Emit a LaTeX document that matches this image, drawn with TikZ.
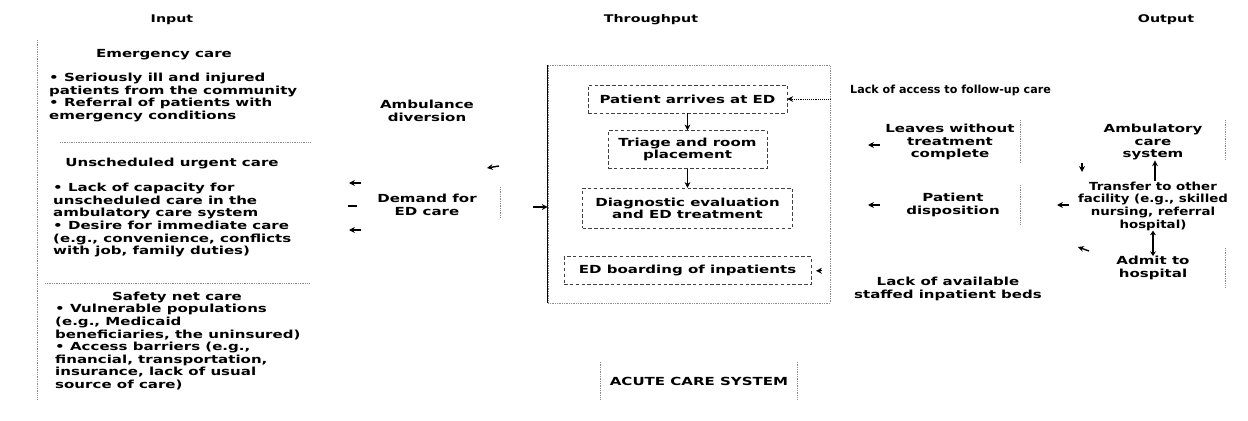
\documentclass[tikz,border=0pt]{standalone}
\usepackage{fontspec}
\newfontfamily\figfont{DejaVu Sans}[FakeStretch=1.35]
\newfontfamily\figmid{DejaVu Sans}[FakeStretch=1.2]
\newfontfamily\figcond{DejaVu Sans}
\usetikzlibrary{arrows.meta, positioning, fit}

\begin{document}
\begin{tikzpicture}[
  x=0.03cm, y=-0.03cm,
  font=\figfont\bfseries\fontsize{9.5}{10.8}\selectfont,
  head/.style={inner sep=0pt, font=\figfont\bfseries\fontsize{9}{10}\selectfont},
  txt/.style={inner sep=0pt, align=center},
  list/.style={inner sep=0pt, align=left, anchor=north west},
  stage/.style={draw=black!75, densely dashed, line width=0.5pt, align=center, inner sep=0pt},
  rule/.style={draw=black!45, densely dotted, line width=0.5pt},
  tip/.style={-{Stealth[length=5pt, width=5pt]}, line width=1.2pt},
  flow/.style={-{Stealth[length=5pt, width=5pt]}, line width=0.6pt}]
  \useasboundingbox (0,0) rectangle (1248,421);

  % column heads
  \node[head] (hin)  at (172,20)  {Input};
  \node[head] (hthr) at (651,20)  {Throughput};
  \node[head] (hout) at (1166,20) {Output};

  % input
  \draw[rule] (37,40) -- (37,400);
  \node[txt] (emerg) at (164,55) {Emergency care};
  \node[list] (emlist) at (49,73) {• Seriously ill and injured\\
    patients from the community\\
    • Referral of patients with\\
    emergency conditions};
  \draw[rule] (60,142) -- (310,142);
  \node[txt] (urgent) at (172,163) {Unscheduled urgent care};
  \node[list] (urlist) at (53,183) {• Lack of capacity for\\
    unscheduled care in the\\
    ambulatory care system\\
    • Desire for immediate care\\
    (e.g., convenience, conflicts\\
    with job, family duties)};
  \draw[rule] (45,283) -- (310,283);
  \node[txt] (safety) at (177,297) {Safety net care};
  \node[list] (salist) at (55,304) {• Vulnerable populations\\
    (e.g., Medicaid\\
    beneficiaries, the uninsured)\\
    • Access barriers (e.g.,\\
    financial, transportation,\\
    insurance, lack of usual\\
    source of care)};

  % demand side
  \node[txt] (ambdiv) at (427,111) {Ambulance\\diversion};
  \node[txt] (demand) at (427,205) {Demand for\\ED care};
  \coordinate (in1a) at (361,183); \coordinate (in1b) at (349,183);
  \coordinate (in2a) at (357,206); \coordinate (in2b) at (348,206);
  \coordinate (in3a) at (361,230); \coordinate (in3b) at (349,230);
  \draw[tip] (in1a) -- (in1b);
  \draw[line width=2pt] (in2a) -- (in2b);
  \draw[tip] (in3a) -- (in3b);
  \coordinate (diva) at (499,166); \coordinate (divb) at (487,168);
  \draw[tip] (diva) -- (divb);
  \draw[rule] (500,187) -- (500,217);

  % throughput
  \node[fit={(548,65) (830,303)}, inner sep=0pt, rule] (thru) {};
  \draw[line width=0.7pt] (thru.north west) -- (thru.south west);
  \node[stage, minimum width=5.97cm, minimum height=0.84cm] (arrive) at (687.5,99) {Patient arrives at ED};
  \node[stage, minimum width=4.77cm, minimum height=1.14cm, below=0.51cm of arrive] (triage) {Triage and room\\placement};
  \node[stage, minimum width=6.3cm, minimum height=1.2cm, below=0.57cm of triage] (diag) {Diagnostic evaluation\\and ED treatment};
  \node[stage, minimum width=7.41cm, minimum height=0.84cm, below=0.84cm of diag] (board) {ED boarding of inpatients};
  \coordinate (dmout) at (533,207);
  \draw[tip] (dmout) -- (thru.west |- dmout);
  \draw[flow] (arrive) -- (triage);
  \draw[flow] (triage) -- (diag);
  \draw[flow, densely dotted] (thru.east |- arrive) -- (arrive.east);
  \draw[tip, shorten <=7pt, shorten >=4pt] (thru.east |- board) -- (board.east);

  % output
  \node[txt, anchor=west, font=\figcond\bfseries\fontsize{9.5}{10.8}\selectfont] (follow) at (850,90) {Lack of access to follow-up care};
  \node[txt] (leaves) at (950,142) {Leaves without\\treatment\\complete};
  \node[txt] (disp)   at (953,205) {Patient\\disposition};
  \node[txt] (beds)   at (948,289) {Lack of available\\staffed inpatient beds};
  \draw[rule] (1020,120) -- (1020,163);
  \draw[rule] (1020,185) -- (1020,225);
  \coordinate (lva) at (880,145); \coordinate (lvb) at (868,145);
  \coordinate (dpa) at (880,205); \coordinate (dpb) at (868,205);
  \draw[tip] (lva) -- (lvb);
  \draw[tip] (dpa) -- (dpb);
  \node[txt] (ambsys)   at (1153,142) {Ambulatory\\care\\system};
  \node[txt, font=\figmid\bfseries\fontsize{9.5}{10.8}\selectfont] (transfer) at (1153,206) {Transfer to other\\facility (e.g., skilled\\nursing, referral\\hospital)};
  \node[txt] (admit)    at (1153,268) {Admit to\\hospital};
  \draw[rule] (1225,120) -- (1225,160);
  \draw[rule] (1225,248) -- (1225,287);
  \coordinate (asa) at (1082,163); \coordinate (asb) at (1082,172);
  \draw[tip] (asa) -- (asb);
  \draw[tip] (transfer.north -| ambsys) ++(2,0) coordinate (tra) (tra) -- (ambsys.south -| tra);
  \draw[tip, {Stealth[length=4pt, width=5pt]}-{Stealth[length=4pt, width=5pt]}] (transfer.south) -- (admit.north);
  \coordinate (tfa) at (1069,205); \coordinate (tfb) at (1057,205);
  \draw[tip] (tfa) -- (tfb);
  \coordinate (ada) at (1089,251); \coordinate (adb) at (1078,247);
  \draw[tip] (ada) -- (adb);

  % system label
  \node[txt, minimum width=5.88cm, minimum height=1.14cm] (acs) at (699,381) {ACUTE CARE SYSTEM};
  \draw[rule] (acs.north west) -- (acs.south west);
  \draw[rule] (acs.north east) -- (acs.south east);
\end{tikzpicture}
\end{document}
